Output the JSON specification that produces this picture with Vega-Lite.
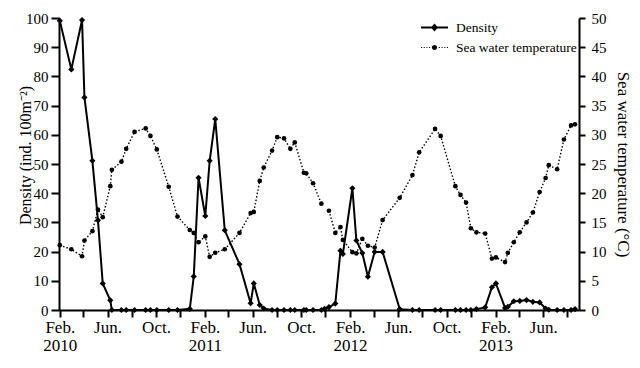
{
  "$schema": "https://vega.github.io/schema/vega-lite/v6.json",
  "width": 520,
  "height": 292,
  "autosize": "none",
  "padding": {"left": 59, "top": 18, "right": 61, "bottom": 58},
  "config": {
    "font": "Liberation Serif",
    "view": {"stroke": null},
    "axis": {"domainColor": "black", "tickColor": "black", "labelColor": "black", "titleColor": "black", "domainWidth": 2, "tickWidth": 2, "grid": false, "titleFontWeight": "normal"}
  },
  "data": {"values": [
    {"date": "2010-02-01", "density": 99.1, "temperature": 11.1},
    {"date": "2010-03-02", "density": 82.4, "temperature": 10.4},
    {"date": "2010-03-29", "density": 99.3, "temperature": 9.2},
    {"date": "2010-04-04", "density": 72.8, "temperature": 11.9},
    {"date": "2010-04-24", "density": 51.1, "temperature": 13.5},
    {"date": "2010-05-08", "density": 30.7, "temperature": 17.2},
    {"date": "2010-05-20", "density": 9.1, "temperature": 15.9},
    {"date": "2010-06-08", "density": 3.3, "temperature": 21.2},
    {"date": "2010-06-12", "density": 0, "temperature": 24.0},
    {"date": "2010-07-06", "density": 0, "temperature": 25.4},
    {"date": "2010-07-18", "density": 0, "temperature": 27.6},
    {"date": "2010-08-08", "density": 0, "temperature": 30.5},
    {"date": "2010-09-05", "density": 0, "temperature": 31.1},
    {"date": "2010-09-17", "density": 0, "temperature": 29.8},
    {"date": "2010-10-03", "density": 0, "temperature": 27.5},
    {"date": "2010-11-02", "density": 0, "temperature": 21.1},
    {"date": "2010-11-24", "density": 0, "temperature": 16.0},
    {"date": "2010-12-25", "density": 0.4, "temperature": 13.7},
    {"date": "2011-01-04", "density": 11.5, "temperature": 13.2},
    {"date": "2011-01-16", "density": 45.3, "temperature": 11.6},
    {"date": "2011-02-02", "density": 32.2, "temperature": 12.6},
    {"date": "2011-02-13", "density": 51.1, "temperature": 9.1},
    {"date": "2011-02-27", "density": 65.4, "temperature": 9.8},
    {"date": "2011-03-23", "density": 27.3, "temperature": 10.4},
    {"date": "2011-04-29", "density": 15.7, "temperature": 13.2},
    {"date": "2011-05-27", "density": 2.3, "temperature": 16.6},
    {"date": "2011-06-04", "density": 9.1, "temperature": 16.8},
    {"date": "2011-06-19", "density": 1.7, "temperature": 22.1},
    {"date": "2011-06-29", "density": 0.5, "temperature": 24.4},
    {"date": "2011-07-20", "density": 0, "temperature": 27.3},
    {"date": "2011-08-02", "density": 0, "temperature": 29.6},
    {"date": "2011-08-19", "density": 0, "temperature": 29.4},
    {"date": "2011-09-04", "density": 0, "temperature": 27.6},
    {"date": "2011-09-15", "density": 0, "temperature": 28.7},
    {"date": "2011-10-08", "density": 0, "temperature": 23.5},
    {"date": "2011-10-14", "density": 0, "temperature": 23.4},
    {"date": "2011-10-31", "density": 0, "temperature": 21.7},
    {"date": "2011-11-21", "density": 0, "temperature": 18.2},
    {"date": "2011-11-29", "density": 0.4, "temperature": null},
    {"date": "2011-12-10", "density": 1.0, "temperature": 17.0},
    {"date": "2011-12-26", "density": 2.2, "temperature": 13.2},
    {"date": "2012-01-08", "density": 20.3, "temperature": 14.2},
    {"date": "2012-01-14", "density": 19.2, "temperature": 12.0},
    {"date": "2012-02-07", "density": 41.7, "temperature": 9.9},
    {"date": "2012-02-17", "density": 23.8, "temperature": 9.7},
    {"date": "2012-03-03", "density": 19.5, "temperature": 12.2},
    {"date": "2012-03-17", "density": 11.4, "temperature": 11.0},
    {"date": "2012-04-03", "density": 19.9, "temperature": 10.7},
    {"date": "2012-04-23", "density": 19.9, "temperature": 15.4},
    {"date": "2012-06-05", "density": 0.3, "temperature": 19.2},
    {"date": "2012-07-07", "density": 0, "temperature": 23.1},
    {"date": "2012-07-24", "density": 0, "temperature": 27.0},
    {"date": "2012-09-02", "density": 0, "temperature": 31.0},
    {"date": "2012-09-16", "density": 0, "temperature": 29.8},
    {"date": "2012-10-23", "density": 0, "temperature": 21.2},
    {"date": "2012-11-05", "density": 0, "temperature": 19.7},
    {"date": "2012-11-19", "density": 0, "temperature": 18.4},
    {"date": "2012-12-01", "density": 0, "temperature": 14.0},
    {"date": "2012-12-15", "density": 0.3, "temperature": 13.3},
    {"date": "2013-01-06", "density": 0.9, "temperature": 13.1},
    {"date": "2013-01-23", "density": 7.8, "temperature": 8.8},
    {"date": "2013-02-02", "density": 9.1, "temperature": 9.0},
    {"date": "2013-02-25", "density": 0.7, "temperature": 8.2},
    {"date": "2013-03-04", "density": 1.1, "temperature": 9.8},
    {"date": "2013-03-19", "density": 3.0, "temperature": 11.6},
    {"date": "2013-04-03", "density": 3.1, "temperature": 13.3},
    {"date": "2013-04-20", "density": 3.4, "temperature": 15.0},
    {"date": "2013-05-06", "density": 2.8, "temperature": 16.7},
    {"date": "2013-05-23", "density": 2.6, "temperature": 20.2},
    {"date": "2013-06-07", "density": 0.5, "temperature": 22.6},
    {"date": "2013-06-15", "density": 0.1, "temperature": 24.8},
    {"date": "2013-07-06", "density": 0, "temperature": 24.1},
    {"date": "2013-07-23", "density": 0, "temperature": 29.2},
    {"date": "2013-08-10", "density": 0, "temperature": 31.6},
    {"date": "2013-08-20", "density": 0.3, "temperature": 31.8}
  ]},
  "encoding": {
    "x": {
      "field": "date",
      "type": "temporal",
      "scale": {"type": "utc", "domain": [{"year": 2010, "month": 1, "date": 30, "utc": true}, {"year": 2013, "month": 8, "date": 30, "utc": true}]},
      "axis": {
        "title": null,
        "values": [
          {"year": 2010, "month": 2, "date": 1, "utc": true}, {"year": 2010, "month": 4, "date": 1, "utc": true}, {"year": 2010, "month": 6, "date": 1, "utc": true}, {"year": 2010, "month": 8, "date": 1, "utc": true}, {"year": 2010, "month": 10, "date": 1, "utc": true}, {"year": 2010, "month": 12, "date": 1, "utc": true},
          {"year": 2011, "month": 2, "date": 1, "utc": true}, {"year": 2011, "month": 4, "date": 1, "utc": true}, {"year": 2011, "month": 6, "date": 1, "utc": true}, {"year": 2011, "month": 8, "date": 1, "utc": true}, {"year": 2011, "month": 10, "date": 1, "utc": true}, {"year": 2011, "month": 12, "date": 1, "utc": true},
          {"year": 2012, "month": 2, "date": 1, "utc": true}, {"year": 2012, "month": 4, "date": 1, "utc": true}, {"year": 2012, "month": 6, "date": 1, "utc": true}, {"year": 2012, "month": 8, "date": 1, "utc": true}, {"year": 2012, "month": 10, "date": 1, "utc": true}, {"year": 2012, "month": 12, "date": 1, "utc": true},
          {"year": 2013, "month": 2, "date": 1, "utc": true}, {"year": 2013, "month": 4, "date": 1, "utc": true}, {"year": 2013, "month": 6, "date": 1, "utc": true}, {"year": 2013, "month": 8, "date": 1, "utc": true}
        ],
        "labelExpr": "utcmonth(datum.value) == 1 ? ['Feb.', '' + utcyear(datum.value)] : utcmonth(datum.value) == 5 ? 'Jun.' : utcmonth(datum.value) == 9 ? 'Oct.' : ''",
        "labelOverlap": false,
        "labelFlush": false,
        "labelBound": false,
        "labelFontSize": 17,
        "labelLineHeight": 18,
        "labelPadding": 2,
        "tickSize": 7
      }
    }
  },
  "layer": [
    {
      "mark": {"type": "line", "color": "black", "strokeWidth": 1.4, "strokeDash": [1.5, 2], "point": {"shape": "circle", "filled": true, "size": 22, "color": "black", "opacity": 1}},
      "encoding": {
        "y": {
          "field": "temperature", "type": "quantitative",
          "scale": {"domain": [0, 50], "nice": false},
          "axis": {"orient": "right", "values": [0, 5, 10, 15, 20, 25, 30, 35, 40, 45, 50], "title": "Sea water temperature (°C)", "titleFontSize": 17, "titleX": 38, "titleBaseline": "alphabetic", "labelFontSize": 15, "tickSize": 6, "labelPadding": 6}
        }
      }
    },
    {
      "mark": {"type": "line", "color": "black", "strokeWidth": 2, "point": {"shape": "diamond", "filled": true, "size": 38, "color": "black", "opacity": 1}},
      "encoding": {
        "y": {
          "field": "density", "type": "quantitative",
          "scale": {"domain": [0, 100], "nice": false},
          "axis": {"orient": "left", "values": [0, 10, 20, 30, 40, 50, 60, 70, 80, 90, 100], "title": "Density (ind. 100m⁻²)", "titleFontSize": 16, "titleX": -29, "titleY": 137, "titleBaseline": "alphabetic", "labelFontSize": 15, "tickSize": 8, "labelPadding": 3}
        }
      }
    },
    {
      "transform": [{"fold": ["density", "temperature"], "as": ["series", "v"]}],
      "mark": {"type": "point", "filled": true, "color": "black", "opacity": 0},
      "encoding": {
        "shape": {
          "field": "series", "type": "nominal",
          "scale": {"domain": ["density", "temperature"], "range": [
            "M-1,-0.075H1V0.075H-1ZM0,-0.3L0.26,0L0,0.3L-0.26,0Z",
            "M-1,-0.04h0.08v0.08h-0.08ZM-0.8,-0.04h0.08v0.08h-0.08ZM-0.6,-0.04h0.08v0.08h-0.08ZM-0.4,-0.04h0.08v0.08h-0.08ZM0.32,-0.04h0.08v0.08h-0.08ZM0.52,-0.04h0.08v0.08h-0.08ZM0.72,-0.04h0.08v0.08h-0.08ZM0.92,-0.04h0.08v0.08h-0.08ZM0.19,0A0.19,0.19,0,1,1,-0.19,0A0.19,0.19,0,1,1,0.19,0Z"
          ]},
          "legend": {
            "orient": "none", "legendX": 362, "legendY": -4, "title": null,
            "symbolSize": 729, "symbolOpacity": 1, "symbolFillColor": "black", "symbolStrokeWidth": 0,
            "labelFontSize": 13.5, "labelOffset": 8, "rowPadding": -3, "padding": 0,
            "labelExpr": "datum.label == 'density' ? 'Density' : 'Sea water temperature'"
          }
        }
      }
    }
  ],
  "resolve": {"scale": {"y": "independent"}}
}
